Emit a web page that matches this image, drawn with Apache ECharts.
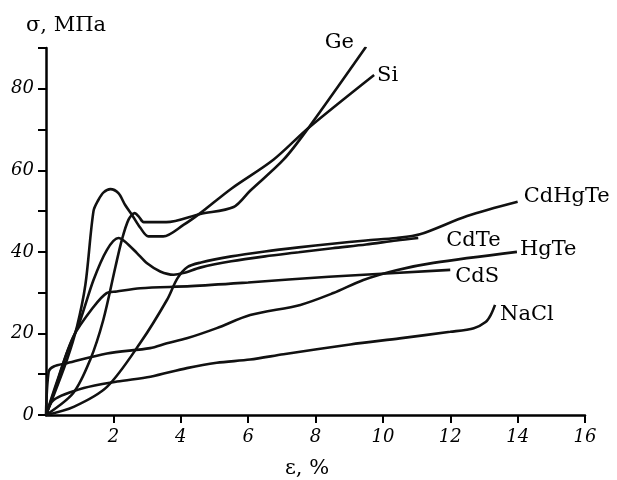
<!DOCTYPE html>
<html>
<head>
<meta charset="utf-8">
<script src="https://cdn.jsdelivr.net/npm/echarts@6/dist/echarts.min.js"></script>
<style>
  html, body { margin: 0; padding: 0; background: #fff; }
  #chart { width: 617px; height: 480px; }
</style>
</head>
<body>
<div id="chart"></div>
<script>
// strain, % / stress, MPa
var ge = [[0,0],[0.81,5.4],[1.31,13.5],[1.70,23.3],[2.06,36.3],[2.25,42.9],[2.45,47.9],[2.63,49.5],[2.76,48.6],[2.9,47.3],[3.57,47.3],[4.58,49.3],[5.57,51.0],[6.06,55.0],[7.05,62.6],[7.79,70.4],[9.5,90.3]]
var si = [[0,0],[0.62,13.5],[0.92,21.7],[1.17,32.0],[1.41,50.0],[1.56,52.8],[1.71,54.6],[1.91,55.4],[2.15,54.4],[2.35,51.5],[2.55,49.1],[2.80,45.9],[3.04,43.8],[3.48,43.8],[4.08,46.6],[4.58,49.5],[5.5,55.5],[6.75,62.6],[7.79,70.4],[9.74,83.4]]
var cdhgte = [[0,0],[0.82,2.0],[1.81,6.9],[2.8,17.7],[3.59,28.2],[3.9,33.5],[4.2,36.3],[4.6,37.4],[5.5,38.9],[6.5,40.1],[7.5,41.1],[8.5,42.0],[9.5,42.8],[10.4,43.4],[11.1,44.3],[12.5,48.8],[14.0,52.3]]
var cdte = [[0,0],[0.23,5.4],[0.62,15.2],[1.02,23.3],[1.41,33.1],[1.81,40.5],[2.15,43.4],[2.35,42.5],[2.70,39.7],[3.0,37.2],[3.39,35.2],[3.79,34.4],[4.07,34.8],[4.6,36.2],[5.5,37.7],[6.5,38.9],[7.5,39.9],[8.5,40.9],[9.5,41.8],[10.4,42.8],[11.05,43.4]]
var hgte = [[0,0],[0.08,10.6],[0.23,11.9],[0.62,12.7],[1.81,15.1],[3.09,16.4],[3.59,17.6],[4.18,18.8],[5.07,21.3],[6.06,24.5],[7.55,27.0],[8.53,29.9],[9.42,33.1],[10.4,35.5],[11.5,37.3],[13.98,40.0]]
var cds = [[0,0],[0.33,8.3],[0.81,19.2],[1.41,26.5],[1.8,29.9],[2.1,30.3],[2.8,31.1],[4.3,31.6],[6.0,32.5],[8.4,33.9],[12.0,35.6]]
var nacl = [[0,0],[0.23,3.7],[1.12,6.6],[2.11,8.2],[3.1,9.4],[4.18,11.5],[5.07,12.8],[6.06,13.6],[7.05,14.9],[9.03,17.3],[10.5,18.8],[12.0,20.4],[12.7,21.3],[13.05,22.8],[13.2,24.5],[13.33,27.0]]

var names = ['Ge', 'Si', 'CdHgTe', 'CdTe', 'HgTe', 'CdS', 'NaCl']
var curves = [ge, si, cdhgte, cdte, hgte, cds, nacl]
var xTicks = [2, 4, 6, 8, 10, 12, 14, 16]

// where each name sits relative to the curve end
var labelAlign = ['right', 'left', 'left', 'left', 'left', 'left', 'left']
var labelOffset = [[-12,-4],[3,1],[6,-5],[28,3],[3,-2],[5,7],[5,10]]

var serif = '"DejaVu Serif", "Liberation Serif", serif'

let myChart = echarts.init(document.getElementById('chart'))

let option = {
  animation: false,
  backgroundColor: '#fff',
  grid: {
    left: 46,
    right: 32,
    top: 48,
    bottom: 65,
    containLabel: false,
    outerBoundsMode: 'none'
  },
  graphic: [{
    type: 'text',
    left: 26,
    top: 15,
    silent: true,
    style: {
      text: 'σ, МПа',
      fill: '#000',
      font: '21px ' + serif
    }
  }],
  xAxis: {
    type: 'value',
    min: 0,
    max: 16,
    interval: 2,
    name: 'ε, %',
    nameLocation: 'middle',
    nameGap: 43,
    nameTextStyle: {
      color: '#000',
      fontFamily: serif,
      fontSize: 21,
      padding: [0, 17, 0, 0]
    },
    axisLine: { onZero: false, lineStyle: { color: '#000', width: 2.5 } },
    axisTick: {
      length: 8,
      customValues: xTicks,
      lineStyle: { color: '#000', width: 2 }
    },
    axisLabel: {
      customValues: xTicks,
      color: '#000',
      fontFamily: serif,
      fontStyle: 'italic',
      fontSize: 18,
      margin: 13,
      formatter: function (v) { return v === 0 ? '' : v }
    },
    splitLine: { show: false }
  },
  yAxis: {
    type: 'value',
    min: 0,
    max: 90,
    interval: 10,
    axisLine: { show: true, lineStyle: { color: '#000', width: 2.5 } },
    axisTick: {
      show: true,
      length: 8,
      lineStyle: { color: '#000', width: 2 }
    },
    axisLabel: {
      color: '#000',
      fontFamily: serif,
      fontStyle: 'italic',
      fontSize: 18,
      margin: 12,
      formatter: function (v) { return (v % 20 === 0 && v < 90) ? v : '' }
    },
    splitLine: { show: false }
  },
  series: curves.map(function (d, i) {
    return {
      name: names[i],
      type: 'line',
      data: d,
      smooth: 0.3,
      showSymbol: false,
      symbol: 'none',
      lineStyle: { color: '#111', width: 2.6 },
      endLabel: {
        show: true,
        formatter: '{a}',
        color: '#000',
        fontFamily: serif,
        fontSize: 21,
        distance: 0,
        align: labelAlign[i],
        verticalAlign: 'middle',
        offset: labelOffset[i]
      }
    }
  })
}

myChart.setOption(option, true)

window.addEventListener('resize', function () {
  myChart.resize()
})
</script>
</body>
</html>
